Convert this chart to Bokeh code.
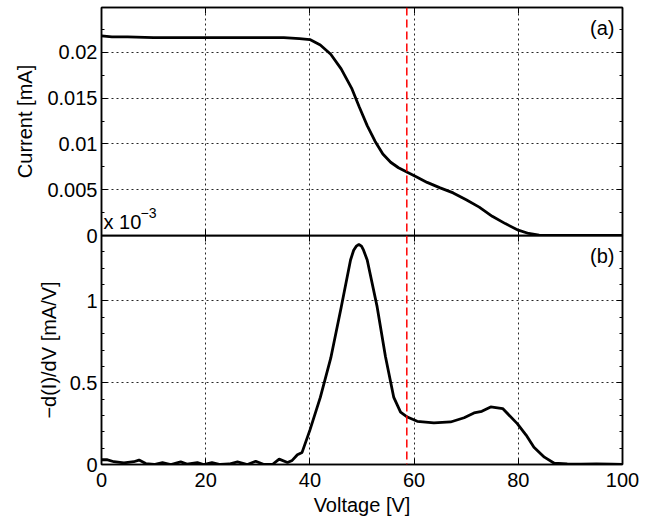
from bokeh.plotting import figure
from bokeh.layouts import column
from bokeh.models import (Range1d, LinearAxis, FixedTicker, CustomJSTickFormatter,
                          Span, Label)
from bokeh.embed import file_html
from bokeh.resources import INLINE

# ---- data ----
volt_i = [0, 2, 5, 10, 15, 20, 25, 30, 35, 38, 40, 42, 44, 46, 48, 49.5, 51, 52.5,
          54, 55.5, 57, 58.7, 60.5, 62.5, 65, 67.5, 70, 72.5, 75, 77.5, 80, 82, 84,
          86, 90, 95, 100]
current = [0.0218, 0.0217, 0.0217, 0.0216, 0.0216, 0.0216, 0.0216, 0.0216, 0.0216,
           0.0215, 0.0214, 0.0208, 0.0198, 0.0182, 0.0161, 0.0140, 0.0120, 0.0103,
           0.0089, 0.0080, 0.0074, 0.0069, 0.0064, 0.0058, 0.0052, 0.00465, 0.0039,
           0.0031, 0.0021, 0.0013, 0.00058, 0.00022, 0.00005, 0.0, 0.0, 0.0, 0.0]

volt_d = [0, 1, 2.4, 4.3, 6.2, 7.2, 8.5, 10.1, 11.7, 13.3, 15.2, 16.4, 18.4, 19.6,
          21.2, 22.8, 24.5, 26.1, 28.0, 29.6, 31.2, 32.8, 34.1, 35.7, 36.6, 37.6, 38.5,
          40, 42, 44, 46, 47.8, 48.4, 48.9, 49.4, 49.9, 50.3, 51, 52.9, 54.5, 56.1,
          57.4, 58.7, 60.6, 63.8, 67, 69.6, 71.5, 73, 74.7, 77, 79.8, 81.5, 83, 85,
          86.9, 89.4, 92, 95, 98, 100]
deriv = [0.029, 0.03, 0.017, 0.01, 0.017, 0.027, 0.006, 0.0, 0.012, 0.0, 0.016, 0.002,
         0.012, 0.0, 0.012, 0.0, 0.003, 0.016, 0.0, 0.02, 0.0, 0.0, 0.033, 0.012, 0.025,
         0.06, 0.074, 0.21, 0.41, 0.65, 0.96, 1.25, 1.31, 1.335, 1.345, 1.335, 1.31,
         1.25, 0.965, 0.66, 0.41, 0.32, 0.29, 0.264, 0.254, 0.26, 0.286, 0.315, 0.325,
         0.352, 0.342, 0.25, 0.18, 0.106, 0.045, 0.008, 0.003, 0.002, 0.004, 0.002, 0.0]

marker_v = 58.6

x_ticks = [0, 20, 40, 60, 80, 100]
i_ticks = [0, 0.005, 0.01, 0.015, 0.02]
i_minor = [0, 0.0025, 0.005, 0.0075, 0.01, 0.0125, 0.015, 0.0175, 0.02, 0.0225, 0.025]
d_ticks = [0, 0.5, 1]
d_minor = [0, 0.1, 0.2, 0.3, 0.4, 0.5, 0.6, 0.7, 0.8, 0.9, 1.0, 1.1, 1.2, 1.3, 1.4]

FONT = "Liberation Sans"
FS = "20px"
OVERLAP = 12  # px of p1's lower border that sits under p2's frame
fmt = CustomJSTickFormatter(code="return tick.toString();")
blank = CustomJSTickFormatter(code="return '';")


def x_ticker():
    return FixedTicker(ticks=x_ticks, num_minor_ticks=5)


def style_axis(ax, labels=True):
    ax.major_tick_in = 6
    ax.major_tick_out = 0
    ax.minor_tick_in = 3
    ax.minor_tick_out = 0
    ax.axis_line_width = 1.5
    ax.axis_line_color = "black"
    ax.major_tick_line_color = "black"
    ax.minor_tick_line_color = "black"
    ax.major_label_text_font = FONT
    ax.major_label_text_color = "black"
    ax.axis_label_text_font = FONT
    ax.axis_label_text_font_size = FS
    ax.axis_label_text_font_style = "normal"
    ax.axis_label_text_color = "black"
    if labels:
        ax.major_label_text_font_size = FS
        ax.major_label_standoff = 4
        ax.formatter = fmt
    else:
        ax.major_label_text_font_size = "0px"
        ax.major_label_standoff = 0
        ax.formatter = blank


def style_fig(p):
    p.outline_line_color = "black"
    p.outline_line_width = 1.5
    p.grid.grid_line_color = "black"
    p.grid.grid_line_dash = "2 3"
    p.grid.grid_line_width = 1
    p.grid.grid_line_alpha = 0.85
    p.add_layout(Span(location=marker_v, dimension="height", line_color="red",
                      line_dash="8 4", line_width=1.5))


def text(x, y, s, size=FS, **kw):
    return Label(x=x, y=y, text=s, text_font=FONT, text_font_size=size,
                 text_color="black", **kw)


x_rng = Range1d(0, 100)

# ---- panel (a) ----
p1 = figure(frame_width=521, frame_height=228, x_range=x_rng, y_range=Range1d(0, 0.0249),
            output_backend="svg", toolbar_location=None,
            min_border_left=101, min_border_right=25, min_border_top=7,
            min_border_bottom=OVERLAP)
p1.xaxis.ticker = x_ticker()
p1.yaxis.ticker = FixedTicker(ticks=i_ticks, minor_ticks=i_minor)
style_axis(p1.xaxis[0], labels=False)
style_axis(p1.yaxis[0])
p1.yaxis.axis_label = "Current [mA]"
p1.yaxis.axis_label_standoff = 8
p1.add_layout(LinearAxis(ticker=x_ticker()), "above")
p1.add_layout(LinearAxis(ticker=FixedTicker(ticks=i_ticks, minor_ticks=i_minor)), "right")
style_axis(p1.above[0], labels=False)
style_axis(p1.right[0], labels=False)
style_fig(p1)
p1.line(volt_i, current, line_color="black", line_width=2.8)
p1.add_layout(text(100, 0.0249, "(a)", text_align="right", text_baseline="top",
                   x_offset=-8, y_offset=-9))
p1.add_layout(text(0, 0, "x 10", text_align="left", text_baseline="alphabetic",
                   x_offset=2, y_offset=14))
p1.add_layout(text(0, 0, "\u22123", size="14px", text_align="left",
                   text_baseline="alphabetic", x_offset=39, y_offset=23))

# ---- panel (b) ----
p2 = figure(frame_width=521, frame_height=229, x_range=x_rng, y_range=Range1d(0, 1.4),
            output_backend="svg", toolbar_location=None,
            min_border_left=101, min_border_right=25, min_border_top=0, min_border_bottom=0)
p2.styles = {"margin-top": f"-{OVERLAP}px", "position": "relative", "z-index": "1"}
p2.border_fill_alpha = 0
p2.background_fill_color = None
p2.xaxis.ticker = x_ticker()
p2.yaxis.ticker = FixedTicker(ticks=d_ticks, minor_ticks=d_minor)
style_axis(p2.xaxis[0])
style_axis(p2.yaxis[0])
p2.xaxis.major_label_standoff = 8
p2.xaxis.axis_label = "Voltage [V]"
p2.xaxis.axis_label_standoff = 4
p2.yaxis.axis_label = "\u2212d(I)/dV [mA/V]"
p2.yaxis.axis_label_standoff = 7
p2.add_layout(LinearAxis(ticker=x_ticker()), "above")
p2.add_layout(LinearAxis(ticker=FixedTicker(ticks=d_ticks, minor_ticks=d_minor)), "right")
style_axis(p2.above[0], labels=False)
style_axis(p2.right[0], labels=False)
style_fig(p2)
p2.line(volt_d, deriv, line_color="black", line_width=2.8)
p2.add_layout(text(100, 1.4, "(b)", text_align="right", text_baseline="top",
                   x_offset=-8, y_offset=-9))

layout = column(p1, p2, spacing=0)
open("out.html", "w").write(file_html(layout, INLINE))
